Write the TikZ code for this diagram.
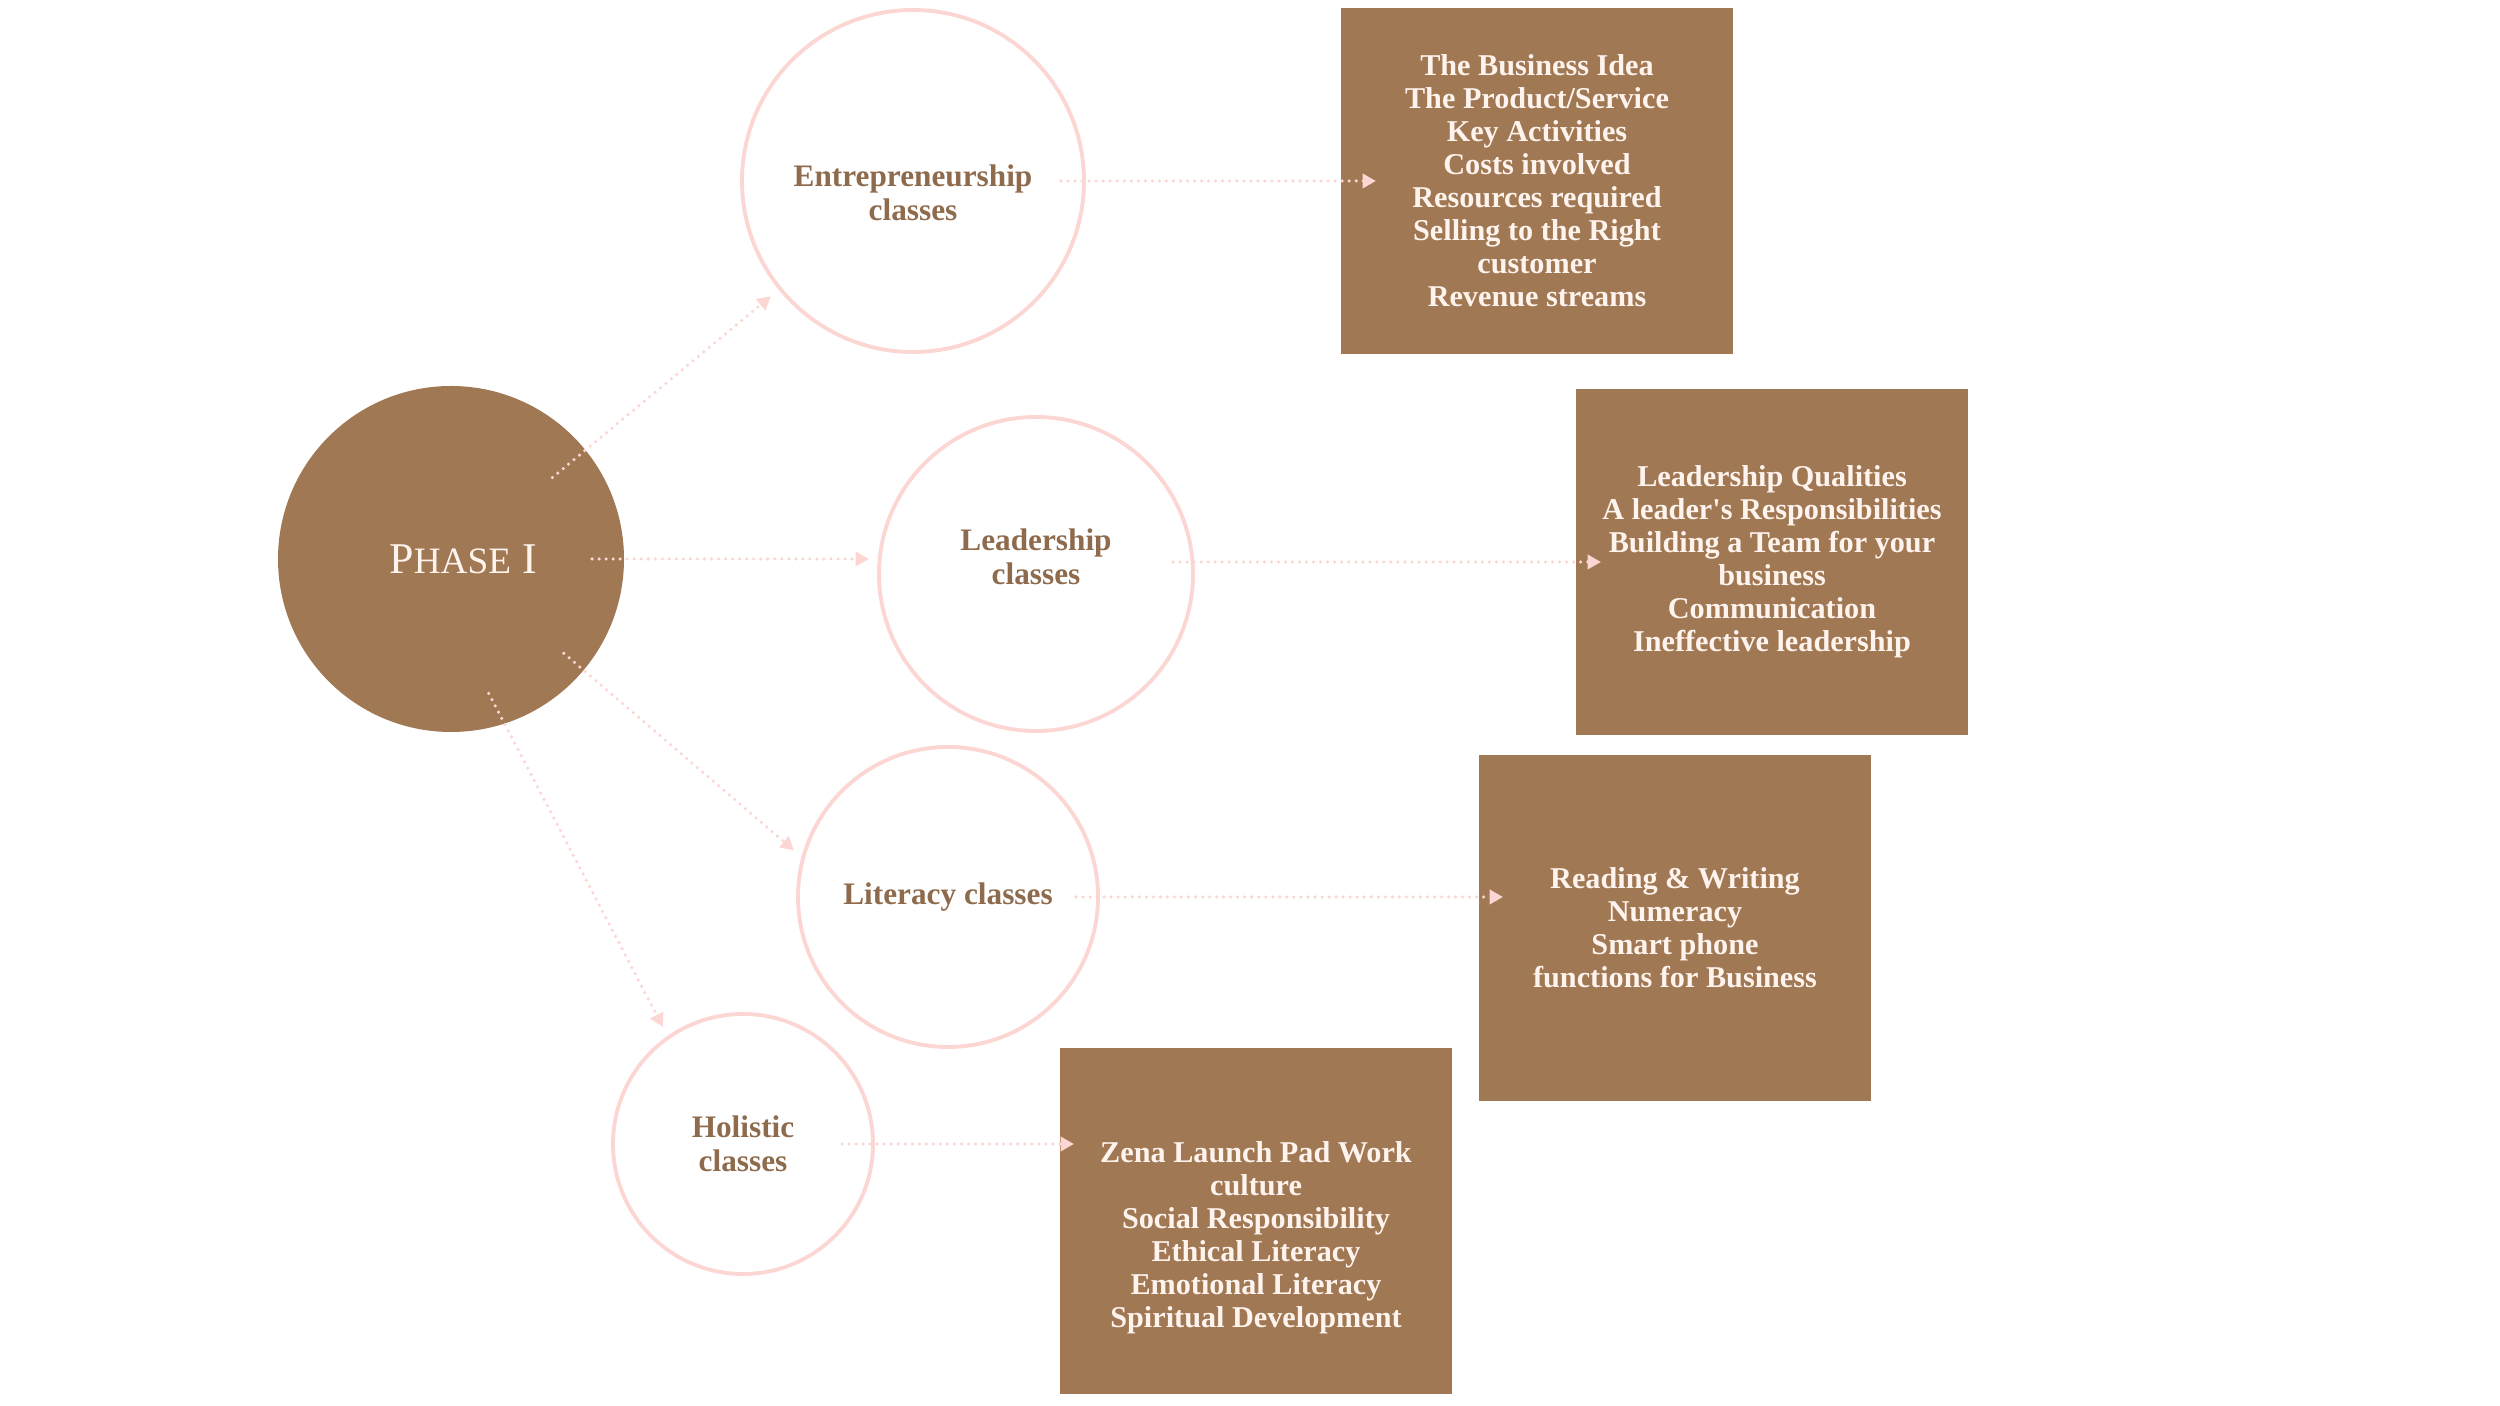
\documentclass[tikz,border=0pt]{standalone}
\usepackage{fontspec}
\setmainfont{Liberation Serif}
\usetikzlibrary{arrows.meta,calc}
\definecolor{mocha}{HTML}{A07853}
\definecolor{blush}{HTML}{FBD6D3}
\definecolor{cocoa}{HTML}{8E6B4D}
\definecolor{cream}{HTML}{FFF3EE}

\begin{document}
\begin{tikzpicture}[>={Triangle[length=3.8pt,width=4pt]},
    hub/.style={circle, fill=mocha, minimum size=3.46cm, inner sep=0pt, outer sep=0pt, text=cream},
    topic/.style={circle, draw=blush, line width=1.1pt, inner sep=0pt, outer sep=0pt, text=cocoa, align=center, font=\bfseries\fontsize{8.9}{9.6}\selectfont},
    detail/.style={rectangle, fill=mocha, minimum width=3.92cm, minimum height=3.46cm, inner sep=0pt, outer sep=0pt, text=cream, align=center, font=\bfseries\fontsize{8.6}{9.4}\selectfont},
    link/.style={->, blush, line width=1pt, line cap=round, dash pattern=on 0pt off 2pt}]
        \useasboundingbox (0,0) rectangle (25,14.06);

        \node[hub] (phase) at (4.51,8.47) {\hspace*{0.24cm}\fontsize{12.5}{13}\selectfont P{\fontsize{10.6}{11}\selectfont HASE} I};

        \node[topic, minimum size=3.42cm] (ent) at (9.13,12.25) {\rule{0pt}{0.45cm}Entrepreneurship\\classes};
        \node[topic, minimum size=3.14cm] (lead) at (10.36,8.32) {Leadership\\classes\rule[-0.35cm]{0pt}{0.1cm}};
        \node[topic, minimum size=3.00cm] (lit) at (9.48,5.09) {Literacy classes};
        \node[topic, minimum size=2.60cm] (hol) at (7.43,2.62) {Holistic\\classes};

        \node[detail] (idea) at (15.37,12.25) {The Business Idea\\The Product/Service\\Key Activities\\Costs involved\\Resources required\\Selling to the Right\\customer\\Revenue streams};
        \node[detail] (lquals) at (17.72,8.44) {Leadership Qualities\\A leader\textquotesingle s Responsibilities\\Building a Team for your\\business\\Communication\\Ineffective leadership};
        \node[detail] (skills) at (16.75,4.78) {Reading \& Writing\\Numeracy\\Smart phone\\functions for Business};
        \node[detail] (values) at (12.56,1.85) {\rule{0pt}{0.55cm}Zena Launch Pad Work\\culture\\Social Responsibility\\Ethical Literacy\\Emotional Literacy\\Spiritual Development};

        % from the phase to the classes
        \draw[link, shorten <=-0.43cm, shorten >=0.12cm] (phase.39) -- (ent.219);
        \draw[link, shorten <=-0.32cm, shorten >=0.10cm] (phase.east) -- (phase.east -| lead.west);
        \draw[link, shorten <=-0.26cm, shorten >=0.12cm] (phase.-40) -- (lit.165);
        \draw[link, shorten <=-0.34cm, shorten >=0.12cm] (phase.-72) -- (hol.125);

        % from the classes to their contents
        \draw[link, shorten <=-0.23cm, shorten >=-0.35cm] (ent.east) -- (idea.west);
        \draw[link, shorten <=-0.20cm, shorten >=-0.25cm] (lead.east |- lquals.west) -- (lquals.west);
        \draw[link, shorten <=-0.22cm, shorten >=-0.24cm] (lit.east) -- (lit.east -| skills.west);
        \draw[link, shorten <=-0.31cm, shorten >=-0.14cm] (hol.east) -- (hol.east -| values.west);
\end{tikzpicture}
\end{document}
